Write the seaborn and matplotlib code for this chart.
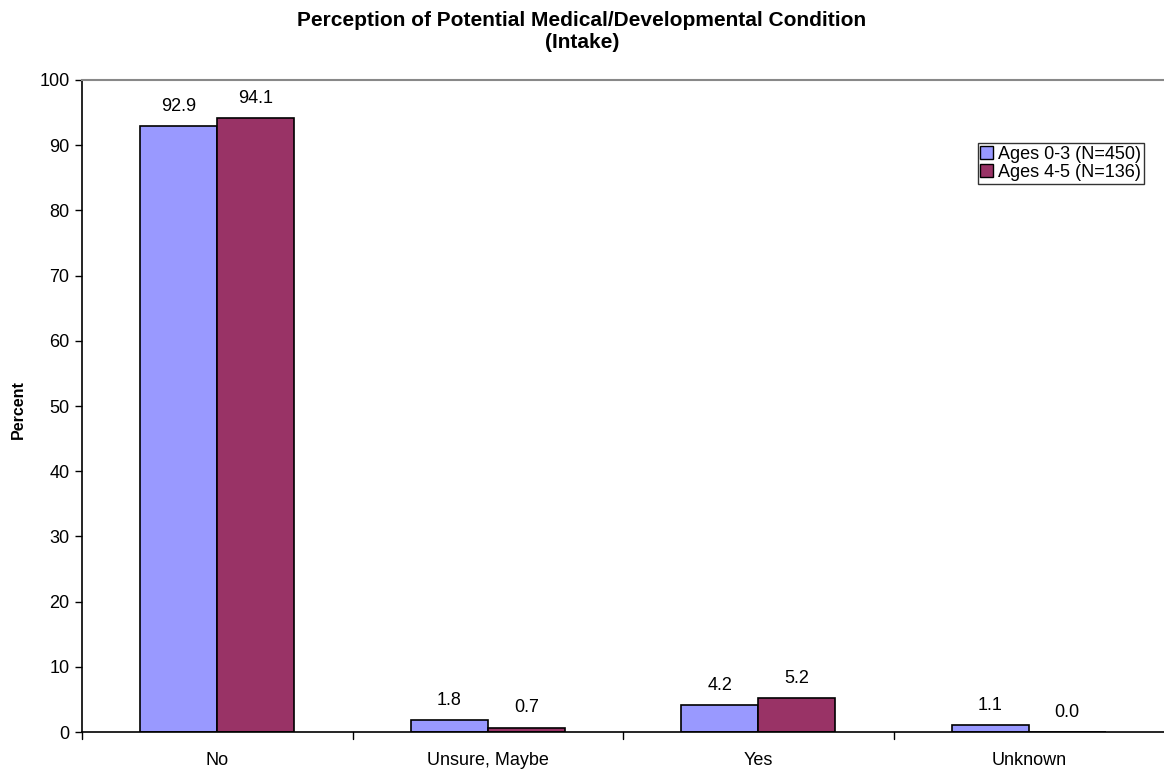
import matplotlib
matplotlib.use("Agg")
import matplotlib.pyplot as plt
import seaborn as sns
import pandas as pd
from matplotlib.patches import Patch

categories = ["No", "Unsure, Maybe", "Yes", "Unknown"]
series_names = ["Ages 0-3 (N=450)", "Ages 4-5 (N=136)"]
ages_0_3 = [92.9, 1.8, 4.2, 1.1]
ages_4_5 = [94.1, 0.7, 5.2, 0.0]
y_ticks = list(range(0, 101, 10))

df = pd.DataFrame({
    "Category": categories * 2,
    "Group": [series_names[0]] * 4 + [series_names[1]] * 4,
    "Percent": ages_0_3 + ages_4_5,
})

sns.set_theme(style="white")
plt.rcParams["font.family"] = ["Liberation Sans", "DejaVu Sans"]
plt.rcParams["text.color"] = "black"
plt.rcParams["axes.labelcolor"] = "black"
plt.rcParams["xtick.color"] = "black"
plt.rcParams["ytick.color"] = "black"

colors = ["#9999FF", "#993366"]

fig = plt.figure(figsize=(11.64, 7.69), dpi=100)
ax = fig.add_axes([0.0705, 0.048, 0.9295, 0.848])

sns.barplot(data=df, x="Category", y="Percent", hue="Group", order=categories,
            hue_order=series_names, palette=colors, width=0.57, saturation=1,
            edgecolor="black", linewidth=1.2, ax=ax, legend=False)

for cont in ax.containers:
    ax.bar_label(cont, fmt="%.1f", padding=8, fontsize=13)

ax.set_ylim(0, 100)
ax.set_xlim(-0.5, 3.5)
ax.set_yticks(y_ticks)
ax.set_yticklabels([str(t) for t in y_ticks], fontsize=13)
ax.set_xticks(range(len(categories)))
ax.set_xticklabels(categories, fontsize=13)
ax.tick_params(axis="x", length=0, pad=14)
ax.tick_params(axis="y", length=5, width=1, color="black", direction="out", left=True, pad=4)

# category separators on the x axis
for b in [-0.5, 0.5, 1.5, 2.5]:
    ax.plot([b, b], [0, -1.0], color="black", lw=1, clip_on=False)

ax.set_xlabel("")
ax.set_ylabel("")
fig.text(18 / 1164, 1 - 410 / 769, "Percent", rotation=90, ha="center", va="center",
         fontsize=11.5, fontweight="bold")

for side in ["left", "bottom"]:
    ax.spines[side].set_color("black")
    ax.spines[side].set_linewidth(1.2)
ax.spines["right"].set_visible(False)
ax.spines["top"].set_color("#888888")
ax.spines["top"].set_linewidth(1.5)

fig.text(0.5, 1 - 31 / 769, "Perception of Potential Medical/Developmental Condition\n(Intake)",
         ha="center", va="center", fontsize=15, fontweight="bold", linespacing=1.2)

handles = [Patch(facecolor=c, edgecolor="black", linewidth=1) for c in colors]
leg = ax.legend(handles, series_names, loc="upper right", bbox_to_anchor=(0.9815, 0.903),
                fontsize=13, frameon=True, fancybox=False, handlelength=0.7,
                handleheight=0.7, handletextpad=0.3, borderpad=0.15, labelspacing=0.05,
                borderaxespad=0)
leg.get_frame().set_edgecolor("black")
leg.get_frame().set_linewidth(1)

fig.savefig("out.png", dpi=100)
